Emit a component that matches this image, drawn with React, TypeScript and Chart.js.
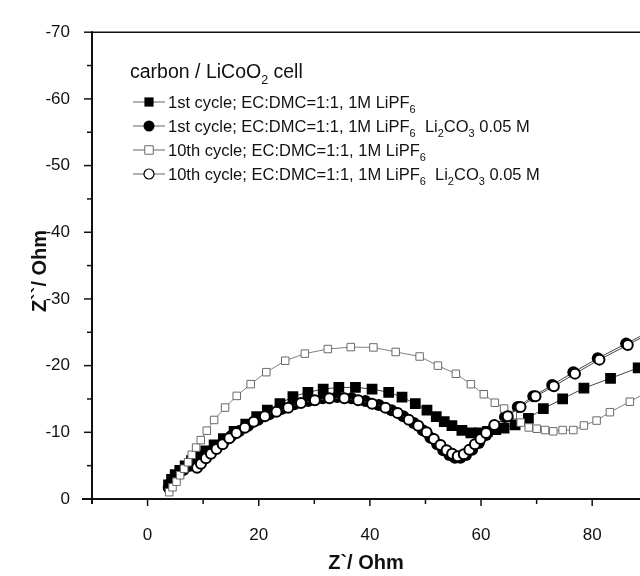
import React, { useEffect, useRef } from 'react';
import { Chart, registerables } from 'chart.js';

Chart.register(...registerables);

// ---------- axis ticks ----------
const X_TICKS = [0, 20, 40, 60, 80];
const X_TICK_MARKS = [0, 10, 20, 30, 40, 50, 60, 70, 80];
const Y_TICKS = [0, -10, -20, -30, -40, -50, -60, -70];
const Y_TICK_MARKS = [0, -5, -10, -15, -20, -25, -30, -35, -40, -45, -50, -55, -60, -65, -70];
const X_MIN = -10;
const X_MAX = 88.6;
const Y_MIN = -70;
const Y_MAX = 0;
const X_TITLE = 'Z`/ Ohm';
const Y_TITLE = 'Z``/ Ohm';

// ---------- series: 1st cycle, no additive (filled squares) ----------
const FS_X = [3.77, 4.31, 4.97, 5.8, 6.76, 7.9, 9.16, 10.47, 11.97, 13.64, 15.56, 17.66, 19.63, 21.55, 23.82, 26.15, 28.85, 31.6, 34.41, 37.4, 40.39, 43.38, 45.78, 48.17, 50.27, 51.94, 53.38, 54.76, 56.55, 58.17, 59.73, 61.16, 62.66, 64.15, 66.13, 68.52, 71.21, 74.68, 78.51, 83.3, 88.27];
const FS_Y = [-2.1, -2.93, -3.66, -4.29, -4.98, -5.76, -6.49, -7.22, -8.1, -9.07, -10.15, -11.22, -12.34, -13.32, -14.29, -15.37, -16.0, -16.49, -16.73, -16.73, -16.49, -16.0, -15.27, -14.29, -13.32, -12.34, -11.61, -11.02, -10.29, -9.9, -9.9, -10.15, -10.39, -10.63, -11.12, -12.1, -13.56, -15.02, -16.63, -18.1, -19.66];

// ---------- series: 1st cycle, Li2CO3 (filled circles) ----------
const FC_X = [3.8, 4.3, 4.9, 5.6, 6.5, 7.6, 8.7, 9.8, 11.0, 12.3, 13.6, 15.0, 16.5, 18.1, 19.9, 21.9, 24.1, 26.4, 28.9, 31.5, 34.1, 36.7, 39.2, 41.6, 43.9, 46.0, 47.9, 49.5, 50.9, 52.1, 53.2, 54.3, 55.3, 56.3, 57.3, 58.4, 59.6, 60.9, 62.4, 64.3, 66.6, 69.4, 72.8, 76.6, 81.0, 86.1, 91.5];
const FC_Y = [-1.7, -2.5, -3.2, -3.8, -4.4, -5.0, -5.5, -6.0, -6.9, -7.7, -8.5, -9.4, -10.2, -11.0, -11.9, -12.7, -13.5, -14.2, -14.7, -15.1, -15.3, -15.1, -14.7, -14.1, -13.3, -12.4, -11.4, -10.3, -9.2, -8.2, -7.3, -6.6, -6.2, -6.2, -6.6, -7.4, -8.4, -9.6, -10.9, -12.3, -13.8, -15.4, -17.1, -19.0, -21.1, -23.3, -25.6];

// ---------- series: 10th cycle, no additive (open squares) ----------
const OS_X = [3.89, 4.49, 5.2, 5.86, 6.58, 7.29, 7.95, 8.73, 9.57, 10.65, 11.97, 13.94, 16.04, 18.55, 21.36, 24.77, 28.3, 32.43, 36.56, 40.63, 44.64, 48.95, 52.24, 55.47, 58.17, 60.5, 62.48, 64.15, 65.71, 67.14, 68.58, 70.02, 71.51, 73.0, 74.68, 76.6, 78.51, 80.79, 83.18, 86.77, 91.5];
const OS_Y = [-1.02, -1.76, -2.59, -3.56, -4.54, -5.51, -6.63, -7.71, -8.83, -10.24, -11.85, -13.71, -15.46, -17.22, -19.02, -20.73, -21.8, -22.49, -22.78, -22.73, -22.05, -21.37, -20.0, -18.78, -17.22, -15.71, -14.44, -13.56, -12.59, -11.46, -10.73, -10.54, -10.34, -10.15, -10.34, -10.34, -11.02, -11.76, -13.02, -14.59, -16.8];

// ---------- series: 10th cycle, Li2CO3 (open circles) ----------
const OC_X = [8.9, 9.6, 10.5, 11.4, 12.4, 13.5, 14.7, 16.0, 17.5, 19.1, 21.1, 23.2, 25.3, 27.6, 30.1, 32.7, 35.4, 37.9, 40.4, 42.8, 45.0, 47.0, 48.7, 50.2, 51.5, 52.7, 53.8, 54.8, 55.8, 56.9, 57.9, 58.9, 59.9, 60.9, 62.4, 64.8, 67.1, 69.8, 73.1, 76.9, 81.3, 86.4, 91.8];
const OC_Y = [-4.7, -5.3, -6.1, -6.8, -7.5, -8.2, -9.1, -9.9, -10.7, -11.6, -12.4, -13.1, -13.7, -14.4, -14.8, -15.1, -15.1, -14.8, -14.3, -13.7, -12.9, -11.9, -11.0, -10.0, -9.0, -8.1, -7.3, -6.8, -6.4, -6.7, -7.4, -8.2, -9.0, -9.9, -11.1, -12.4, -13.8, -15.4, -16.9, -18.8, -20.9, -23.1, -25.5];

// ---------- legend texts ----------
const LEGEND_TITLE: [string, boolean][] = [['carbon / LiCoO', false], ['2', true], [' cell', false]];
const LEGEND_ROWS: [string, boolean][][] = [
  [['1st cycle; EC:DMC=1:1, 1M LiPF', false], ['6', true]],
  [['1st cycle; EC:DMC=1:1, 1M LiPF', false], ['6', true], ['  Li', false], ['2', true], ['CO', false], ['3', true], [' 0.05 M', false]],
  [['10th cycle; EC:DMC=1:1, 1M LiPF', false], ['6', true]],
  [['10th cycle; EC:DMC=1:1, 1M LiPF', false], ['6', true], ['  Li', false], ['2', true], ['CO', false], ['3', true], [' 0.05 M', false]],
];

const FONT = '"Liberation Sans", Arial, Helvetica, sans-serif';

const pts = (xs: number[], ys: number[]) => xs.map((x, i) => ({ x, y: ys[i] }));

const STYLES = [
  { key: 'fs', pointStyle: 'rect', radius: 7.6, bg: '#000', border: '#000', bw: 0, line: '#444', order: 3 },
  { key: 'fc', pointStyle: 'circle', radius: 6, bg: '#000', border: '#000', bw: 0, line: '#444', order: 2 },
  { key: 'os', pointStyle: 'rect', radius: 5.3, bg: '#fff', border: '#6a6a6a', bw: 1, line: '#808080', order: 1 },
  { key: 'oc', pointStyle: 'circle', radius: 5, bg: '#fff', border: '#000', bw: 2, line: '#444', order: 0 },
];

function drawParts(ctx: CanvasRenderingContext2D, parts: [string, boolean][], x: number, baseline: number, fs: number, subFs: number, subDy: number) {
  let cx = x;
  for (const [t, sub] of parts) {
    ctx.font = `${sub ? subFs : fs}px ${FONT}`;
    ctx.fillText(t, cx, sub ? baseline + subDy : baseline);
    cx += ctx.measureText(t).width;
  }
}

function drawMarker(ctx: CanvasRenderingContext2D, s: any, x: number, y: number) {
  ctx.save();
  ctx.beginPath();
  if (s.pointStyle === 'rect') {
    const h = s.radius * Math.SQRT1_2;
    ctx.rect(x - h, y - h, 2 * h, 2 * h);
  } else {
    ctx.arc(x, y, s.radius, 0, Math.PI * 2);
  }
  ctx.fillStyle = s.bg;
  ctx.fill();
  if (s.bw > 0) {
    ctx.lineWidth = Math.min(s.bw, 1.2);
    ctx.strokeStyle = s.border;
    ctx.stroke();
  }
  ctx.restore();
}

const decorPlugin = {
  id: 'decor',
  afterDraw(chart: any) {
    const { ctx, chartArea, scales } = chart;
    const { left, right, top, bottom } = chartArea;
    const xs = scales.x;
    const ys = scales.y;
    ctx.save();
    ctx.strokeStyle = '#111';
    ctx.lineCap = 'butt';
    const line = (x1: number, y1: number, x2: number, y2: number, w: number) => {
      ctx.lineWidth = w;
      ctx.beginPath();
      ctx.moveTo(x1, y1);
      ctx.lineTo(x2, y2);
      ctx.stroke();
    };
    // frame
    line(left, top, right, top, 1.5);
    line(left, top - 1, left, bottom + 5, 2);
    line(left - 10, bottom, right, bottom, 2);
    // ticks
    for (const v of Y_TICK_MARKS) {
      const py = ys.getPixelForValue(v);
      const len = v % 10 === 0 ? 8 : 5;
      line(left - len, py, left, py, 1.5);
    }
    for (const v of X_TICK_MARKS) {
      const px = xs.getPixelForValue(v);
      const len = v % 20 === 0 ? 7 : 5;
      line(px, bottom, px, bottom + len, 1.5);
    }
    // axis titles
    ctx.fillStyle = '#111';
    ctx.font = `bold 20px ${FONT}`;
    ctx.textAlign = 'center';
    ctx.textBaseline = 'middle';
    ctx.fillText(X_TITLE, (left + right) / 2, 563);
    ctx.save();
    ctx.translate(40, 271);
    ctx.rotate(-Math.PI / 2);
    ctx.fillText(Y_TITLE, 0, 0);
    ctx.restore();

    // legend
    ctx.textAlign = 'left';
    ctx.textBaseline = 'alphabetic';
    drawParts(ctx, LEGEND_TITLE, 130, 78, 19.5, 12.5, 6);
    const baselines = [108, 132, 156, 180];
    const legendMarkers = [
      { ...STYLES[0], radius: 6.5 },
      { ...STYLES[1], radius: 5.5 },
      { ...STYLES[2], radius: 6 },
      { ...STYLES[3], radius: 5 },
    ];
    LEGEND_ROWS.forEach((parts, i) => {
      const cy = baselines[i] - 6;
      ctx.strokeStyle = '#666';
      line(133, cy, 165, cy, 1);
      drawMarker(ctx, legendMarkers[i], 149, cy);
      ctx.fillStyle = '#111';
      drawParts(ctx, parts, 168, baselines[i], 16.5, 11, 5);
    });
    ctx.restore();
  },
};

export default function App() {
  const ref = useRef<HTMLCanvasElement | null>(null);
  useEffect(() => {
    if (!ref.current) return;
    Chart.defaults.font.family = FONT;
    const series = [
      pts(FS_X, FS_Y),
      pts(FC_X, FC_Y),
      pts(OS_X, OS_Y),
      pts(OC_X, OC_Y),
    ];
    const datasets = STYLES.map((s, i) => ({
      label: s.key,
      data: series[i],
      showLine: true,
      borderColor: s.line,
      borderWidth: 1,
      pointStyle: s.pointStyle,
      pointRadius: s.radius,
      pointBackgroundColor: s.bg,
      pointBorderColor: s.border,
      pointBorderWidth: s.bw,
      order: s.order,
    }));
    const chart = new Chart(ref.current, {
      type: 'scatter',
      data: { datasets } as any,
      options: {
        animation: false,
        responsive: false,
        devicePixelRatio: 1,
        layout: { autoPadding: false, padding: { top: 21, left: 0, right: 0, bottom: 0 } },
        plugins: { legend: { display: false }, tooltip: { enabled: false } },
        scales: {
          x: {
            type: 'linear',
            min: X_MIN,
            max: X_MAX,
            afterBuildTicks: (s: any) => { s.ticks = X_TICKS.map((v) => ({ value: v })); },
            afterFit: (s: any) => { s.height = 77; },
            grid: { display: true, drawOnChartArea: false, drawTicks: false },
            border: { display: false },
            ticks: { font: { size: 17 }, color: '#111', padding: 26, maxRotation: 0 },
          },
          y: {
            type: 'linear',
            reverse: true,
            min: Y_MIN,
            max: Y_MAX,
            afterBuildTicks: (s: any) => { s.ticks = Y_TICKS.map((v) => ({ value: v })); },
            afterFit: (s: any) => { s.width = 92; },
            grid: { display: true, drawOnChartArea: false, drawTicks: false },
            border: { display: false },
            ticks: { font: { size: 17 }, color: '#111', padding: 22 },
          },
        },
      } as any,
      plugins: [decorPlugin],
    });
    return () => chart.destroy();
  }, []);
  return (
    <div style={{ position: 'fixed', left: 0, top: 0, width: 640, height: 576, background: '#fff' }}>
      <canvas ref={ref} width={640} height={576} style={{ display: 'block' }} />
    </div>
  );
}
